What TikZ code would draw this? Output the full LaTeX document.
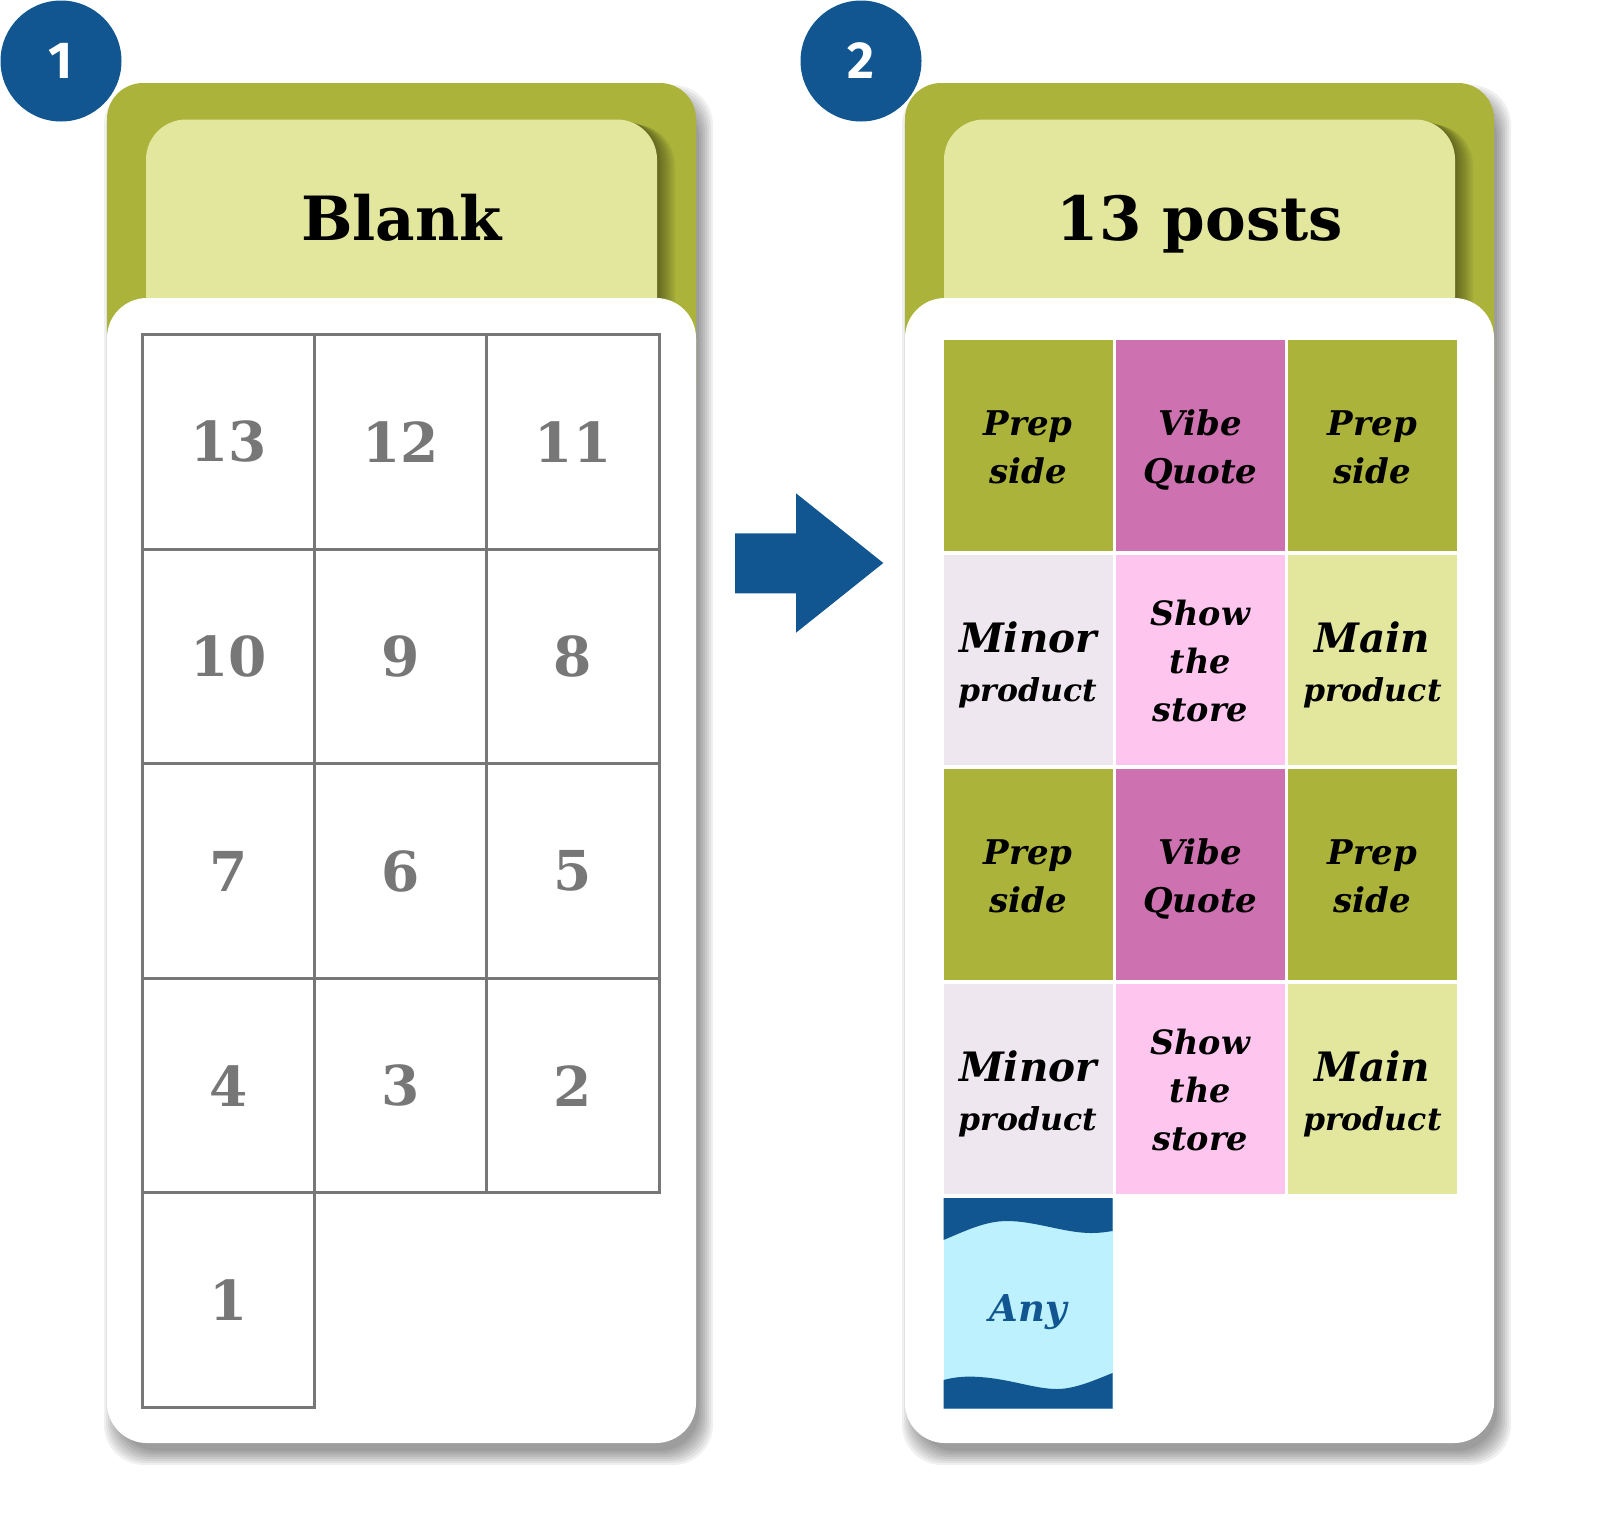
\documentclass[tikz,border=0pt]{standalone}
\usepackage{fontspec}
\setmainfont{DejaVu Serif}
\newfontfamily\badgesans{Fira Sans}
\definecolor{pgreen}{HTML}{ABB33A}
\definecolor{hlight}{HTML}{E2E79D}
\definecolor{bblue}{HTML}{115690}
\definecolor{cyanlt}{HTML}{BCF1FD}
\definecolor{magent}{HTML}{CD71B0}
\definecolor{lavend}{HTML}{EFE7EF}
\definecolor{pinklt}{HTML}{FEC6EE}
\definecolor{gridgrey}{HTML}{777777}
\newcommand{\cellfa}{\fontsize{34}{40}\selectfont\bfseries\itshape}
\newcommand{\cellfb}{\fontsize{40.5}{48}\selectfont\bfseries\itshape}
\newcommand{\cellfbs}{\fontsize{31.5}{40}\selectfont\bfseries\itshape}
\newcommand{\cellfc}{\fontsize{33.5}{40}\selectfont\bfseries\itshape}
\newcommand{\panelbg}[1]{%
\begin{scope}[xshift=#1]
  \foreach \e in {-4,-2,...,10}
    \fill[black,opacity=0.06,rounded corners=40] (107+7-\e,83+12-\e) rectangle (696+7+\e,1443+12+\e);
  \fill[pgreen,rounded corners=36] (107,83) rectangle (696,420);
  \begin{scope}
    \clip[rounded corners=36] (107,83) rectangle (696,420);
    \foreach \s in {2,4,...,18}
      \fill[black,opacity=0.05,rounded corners=40] (146+\s,119.5+0.3*\s) rectangle (657+\s,420);
  \end{scope}
  \fill[hlight,rounded corners=40] (146,119.5) rectangle (657,420);
  \fill[white,rounded corners=40] (107,298) rectangle (696,1443);
\end{scope}}
\tikzset{
  gridcell/.style={draw=gridgrey,line width=3,minimum width=172.2,minimum height=214.6,anchor=north west,inner sep=0,text=gridgrey,font=\fontsize{55}{55}\selectfont\bfseries},
  rcellbox/.style={minimum width=169,minimum height=210.5,anchor=north west,inner sep=0},
  lbl/.style={anchor=base,inner sep=0,text=black},
  badge/.style={circle,fill=bblue,minimum size=121,inner sep=0,text=white,font=\fontsize{52}{52}\selectfont\badgesans\bfseries},
  title/.style={anchor=base,inner sep=0,text=black,font=\fontsize{61}{61}\selectfont\bfseries}
}
\begin{document}
\begin{tikzpicture}[x=1pt,y=-1pt]
\useasboundingbox (0,0) rectangle (1600,1516);
% panels
\panelbg{0}
\panelbg{798}
% titles
\node[title] (t1) at (401.5,240) {Blank};
\node[title] (t2) at (1200,240) {13 posts};
% badges
\node[badge] (b1) at (61,61) {1};
\node[badge] (b2) at (861,61) {2};
% arrow
\fill[bblue] (735,533.3) -- (796,533.3) -- (796,493.3) -- (883.3,563) -- (796,632.7) -- (796,593.3) -- (735,593.3) -- cycle;
% left grid
\foreach \r/\c/\n in {0/0/13,0/1/12,0/2/11,1/0/10,1/1/9,1/2/8,2/0/7,2/1/6,2/2/5,3/0/4,3/1/3,3/2/2,4/0/1}
  \node[gridcell] (L\n) at (141+\c*172.2,333+\r*214.6) {\n};
% right grid: rows of type 1
\foreach \r in {0,2}{
  \pgfmathsetmacro{\T}{340+\r*214.5}
  \node[rcellbox,fill=pgreen] (c\r-1) at (943.5,\T) {};
  \node[rcellbox,fill=magent] (c\r-2) at (1115.7,\T) {};
  \node[rcellbox,fill=pgreen] (c\r-3) at (1287.9,\T) {};
  \node[lbl,font=\cellfa] (c\r-1a) at (1028,\T+95) {Prep};
  \node[lbl,font=\cellfa] (c\r-1b) at (1028,\T+143) {side};
  \node[lbl,font=\cellfa] (c\r-2a) at (1200.2,\T+95) {Vibe};
  \node[lbl,font=\cellfa] (c\r-2b) at (1200.2,\T+143) {Quote};
  \node[lbl,font=\cellfa] (c\r-3a) at (1372.4,\T+95) {Prep};
  \node[lbl,font=\cellfa] (c\r-3b) at (1372.4,\T+143) {side};
}
\foreach \r in {1,3}{
  \pgfmathsetmacro{\T}{340+\r*214.5}
  \node[rcellbox,fill=lavend] (c\r-1) at (943.5,\T) {};
  \node[rcellbox,fill=pinklt] (c\r-2) at (1115.7,\T) {};
  \node[rcellbox,fill=hlight] (c\r-3) at (1287.9,\T) {};
  \node[lbl,font=\cellfb] (c\r-1a) at (1028,\T+98) {Minor};
  \node[lbl,font=\cellfbs] (c\r-1b) at (1028,\T+147) {product};
  \node[lbl,font=\cellfc] (c\r-2a) at (1200.2,\T+70.5) {Show};
  \node[lbl,font=\cellfc] (c\r-2b) at (1200.2,\T+118.5) {the};
  \node[lbl,font=\cellfc] (c\r-2c) at (1200.2,\T+167) {store};
  \node[lbl,font=\cellfb] (c\r-3a) at (1372.4,\T+98) {Main};
  \node[lbl,font=\cellfbs] (c\r-3b) at (1372.4,\T+147) {product};
}
% Any cell
\node[rcellbox,fill=cyanlt] (any) at (943.5,1198) {};
\fill[bblue] (943.5,1198) -- (1112.5,1198) -- (1112.5,1231)
  .. controls (1106,1232) and (1100,1233) .. (1091,1233)
  .. controls (1065,1233) and (1035,1221) .. (1007,1221)
  .. controls (985,1221) and (965,1231) .. (943.5,1240) -- cycle;
\fill[bblue] (943.5,1380) .. controls (955,1377) and (965,1376) .. (980,1377)
  .. controls (1010,1379) and (1035,1389) .. (1057,1389)
  .. controls (1075,1389) and (1095,1380) .. (1112.5,1373)
  -- (1112.5,1408.5) -- (943.5,1408.5) -- cycle;
\node[anchor=base,inner sep=0,text=bblue,font=\fontsize{37}{40}\selectfont\bfseries\itshape] (anytext) at (1028,1321.7) {Any};
\end{tikzpicture}
\end{document}
